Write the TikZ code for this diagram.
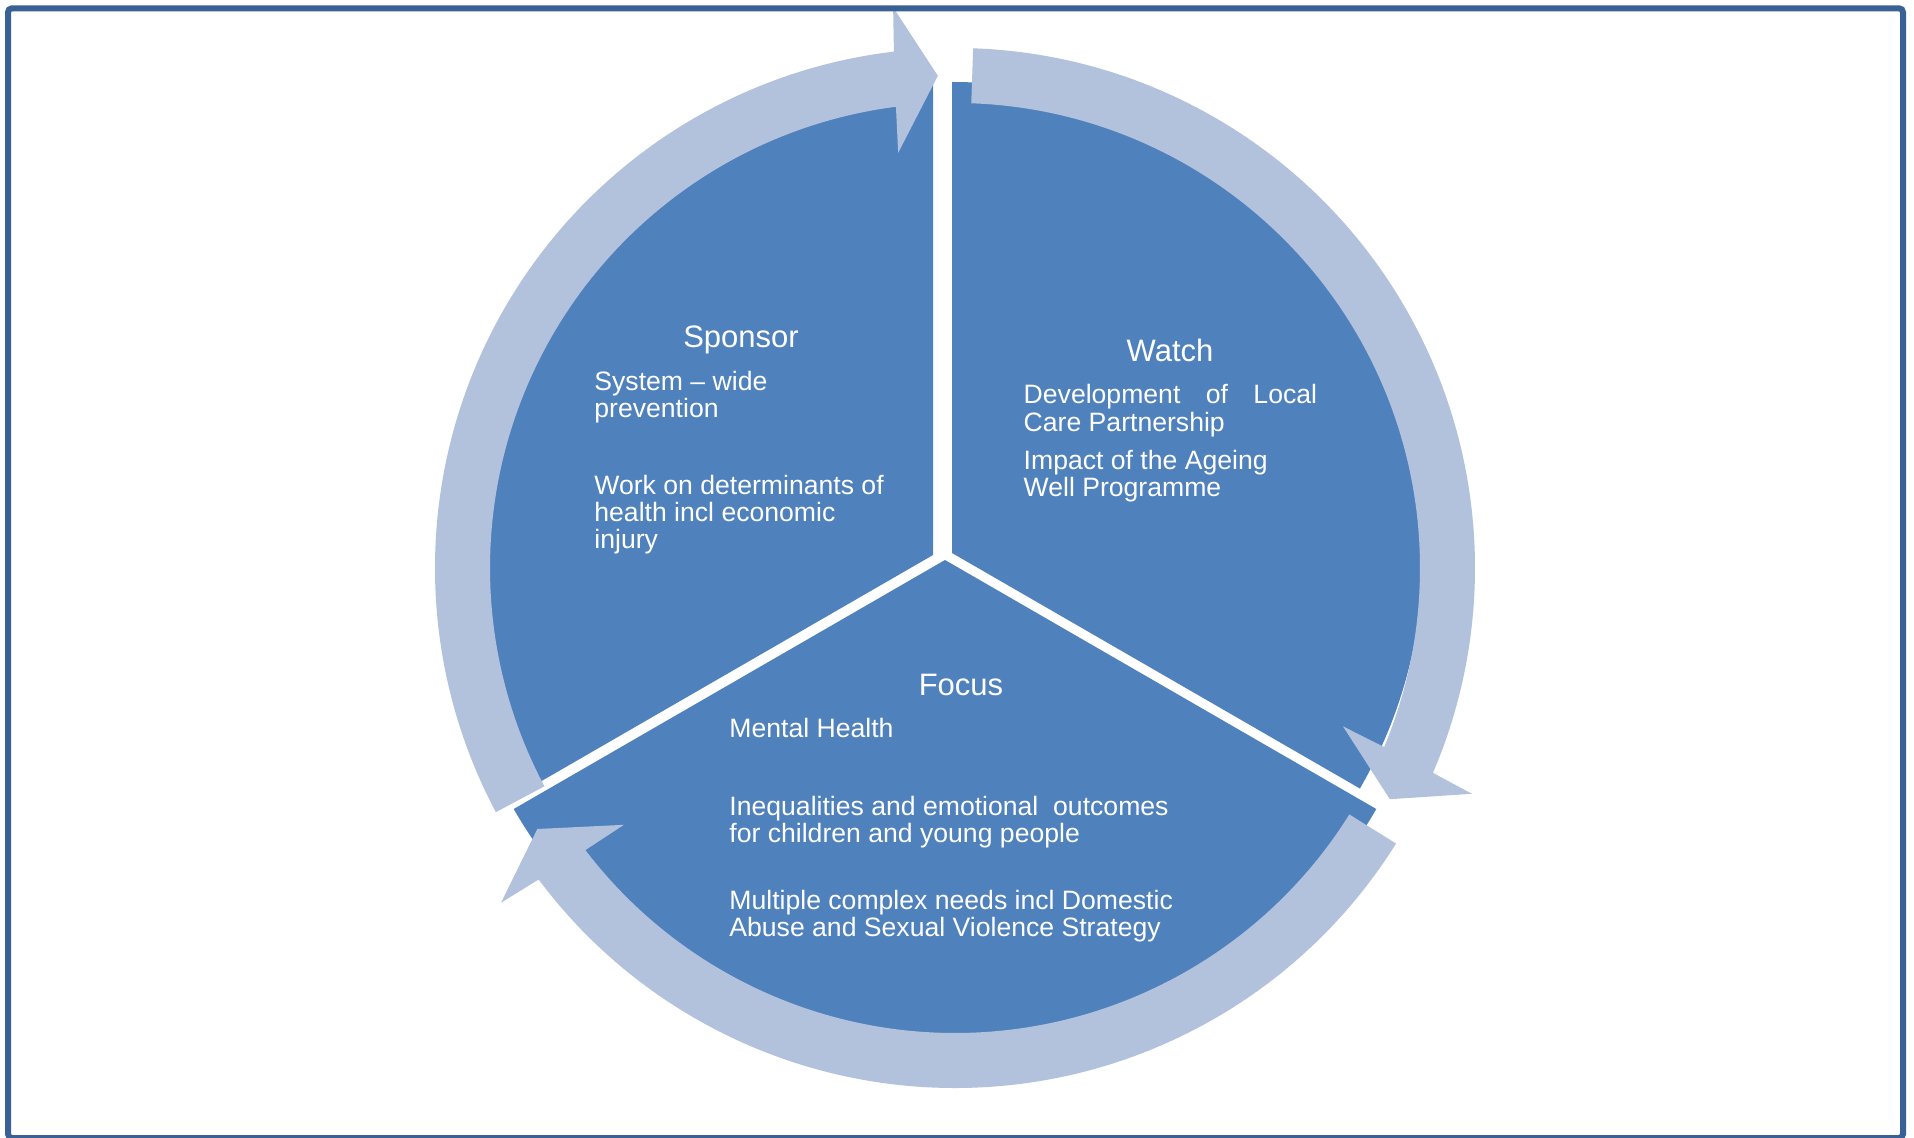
\documentclass[tikz,border=0pt]{standalone}
\usepackage{fontspec}
\setmainfont{Liberation Sans}
\usetikzlibrary{calc}
\definecolor{segblue}{HTML}{4F81BD}
\definecolor{arcblue}{HTML}{B2C1DC}
\definecolor{framecol}{HTML}{3A6195}
\begin{document}
\begin{tikzpicture}[x=0.5pt,y=0.5pt,
  seg/.style={fill=segblue},
  arcarrow/.style={fill=arcblue},
  body/.style={text=white,inner sep=0pt,anchor=base west,font=\fontsize{13.3pt}{13.75pt}\selectfont},
  ttl/.style={text=white,inner sep=0pt,anchor=base,font=\fontsize{15.5pt}{16pt}\selectfont}]
\useasboundingbox (0,0) rectangle (1914,1137);
\fill[white] (0,0) rectangle (1914,1137);
\coordinate (R) at (955,569);
\coordinate (S) at (933,582);
\coordinate (W) at (952,584);
\coordinate (F) at (945,577);
% pie segments
\fill[seg] (S) -- ++(90:478) arc[start angle=90,end angle=210,radius=478] -- cycle;
\fill[seg] (W) -- ++(-30:471) arc[start angle=-30,end angle=90,radius=471] -- cycle;
\fill[seg] (F) -- ++(210:498) arc[start angle=210,end angle=330,radius=498] -- cycle;
% circular arrows
\fill[arcarrow] ($(R)+(208:520)$) arc[start angle=208,end angle=96.75,radius=520]
  -- ($(R)+(96.3:564)$) -- ($(R)+(92:492.5)$) -- ($(R)+(97.8:419)$)
  -- ($(R)+(97.3:465)$) arc[start angle=97.3,end angle=208,radius=465] -- cycle;
\fill[arcarrow] ($(R)+(88:520)$) arc[start angle=88,end angle=-23.2,radius=520]
  -- ($(R)+(-23.6:564)$) -- ($(R)+(-28:492.5)$) -- ($(R)+(-22.2:419)$)
  -- ($(R)+(-22.65:465)$) arc[start angle=-22.65,end angle=88,radius=465] -- cycle;
\fill[arcarrow] ($(R)+(-32:520)$) arc[start angle=-32,end angle=-143.2,radius=520]
  -- ($(R)+(-143.6:564)$) -- ($(R)+(-148:492.5)$) -- ($(R)+(-142.2:419)$)
  -- ($(R)+(-142.65:465)$) arc[start angle=-142.65,end angle=-32,radius=465] -- cycle;
% Sponsor
\node[ttl] (sponsor) at (741,790) {Sponsor};
\node[body] (sp1) at (594,747) {System – wide};
\node[body] (sp2) at (594,719.7) {prevention};
\node[body] (sp3) at (594,642.7) {Work on determinants of};
\node[body] (sp4) at (594,615.3) {health incl economic};
\node[body] (sp5) at (594,588.7) {injury};
% Watch
\node[ttl] (watch) at (1170,775.3) {Watch};
\node[body] (wa1) at (1023.3,733.3) {\makebox[146.7pt][s]{Development of Local}};
\node[body] (wa2) at (1023.3,706) {Care Partnership};
\node[body] (wa3) at (1023.3,668) {Impact of the Ageing};
\node[body] (wa4) at (1023.3,640.3) {Well Programme};
% Focus
\node[ttl] (focus) at (961,442) {Focus};
\node[body] (fo1) at (729,399.3) {Mental Health};
\node[body] (fo2) at (729,322) {Inequalities and emotional\ \ outcomes};
\node[body] (fo3) at (729,294.3) {for children and young people};
\node[body] (fo4) at (729,227.7) {Multiple complex needs incl Domestic};
\node[body] (fo5) at (729,200.3) {Abuse and Sexual Violence Strategy};
% frame
\draw[framecol,line width=3pt,rounded corners=2pt] (8,1128.7) rectangle (1903,-1);
\end{tikzpicture}
\end{document}
